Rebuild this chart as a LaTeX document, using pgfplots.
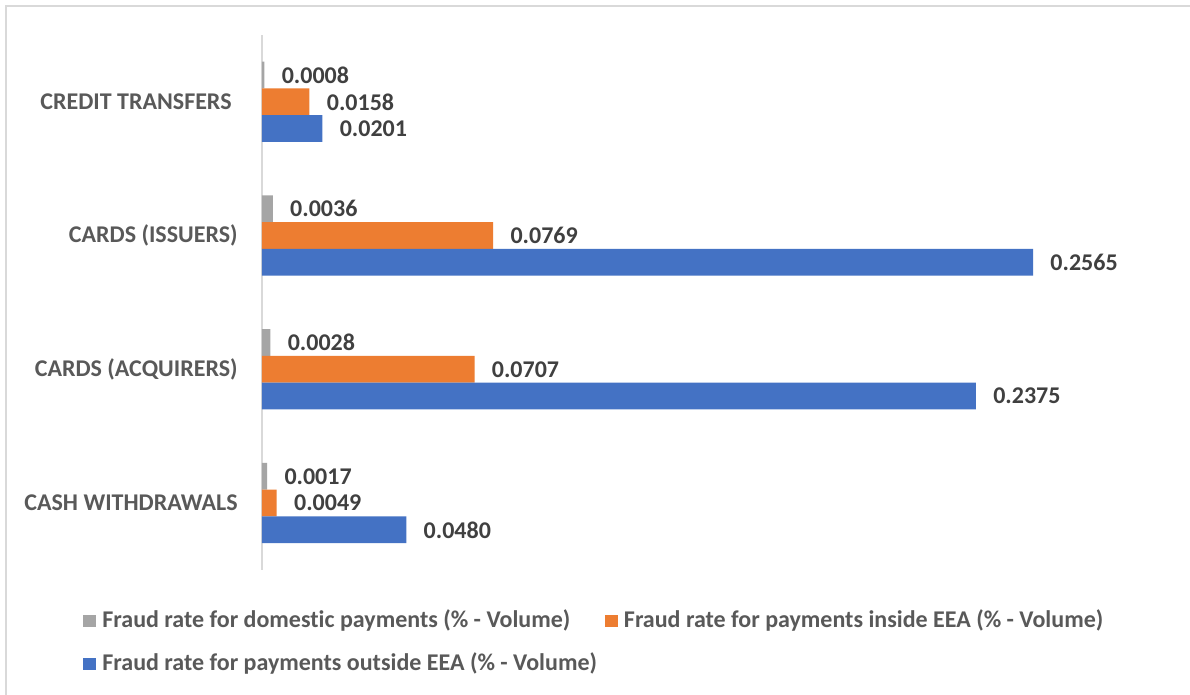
\documentclass[border=0pt]{standalone}
\usepackage{pgfplots}
\pgfplotsset{compat=1.18}
\usepackage{fontspec}
\setmainfont[Ligatures=CommonOff]{Carlito}
\definecolor{cgray}{HTML}{A5A5A5}
\definecolor{corange}{HTML}{ED7D31}
\definecolor{cblue}{HTML}{4472C4}
\definecolor{ctxt}{HTML}{595959}
\definecolor{cval}{HTML}{404040}
\definecolor{cline}{HTML}{D9D9D9}
\pgfplotsset{
  sqlegend/.style={legend image code/.code={\fill[##1] (0pt,-3pt) rectangle (6.5pt,3pt);}}
}
\begin{document}
\begin{tikzpicture}
\useasboundingbox (-131pt,-62.5pt) rectangle (464pt,285pt);
\fill[white] (-131pt,-62.5pt) rectangle (464pt,285pt);
\draw[cline, line width=0.9pt] (-128pt,-80pt) rectangle (480pt,282pt);
\begin{axis}[
  at={(0pt,0pt)}, anchor=south west,
  scale only axis, width=450.9pt, height=267.5pt,
  xbar, bar width=0.2,
  xmin=0, xmax=0.3, ymin=-0.5, ymax=3.5,
  axis x line=none, axis y line=left,
  axis line style={-, cline, line width=1pt},
  ytick={0,1,2,3},
  yticklabels={CASH WITHDRAWALS, CARDS (ACQUIRERS), CARDS (ISSUERS), CREDIT TRANSFERS\kern3pt},
  major tick length=0pt,
  yticklabel style={font=\fontsize{12}{14}\selectfont\bfseries, text=ctxt, inner sep=0pt, xshift=-12pt},
  clip=false,
  point meta=x,
  nodes near coords={\pgfmathprintnumber[fixed,zerofill,precision=4,assume math mode=true]{\pgfplotspointmeta}},
  nodes near coords style={anchor=west, inner sep=0pt, xshift=8.5pt, font=\fontsize{12}{14}\selectfont\bfseries, text=cval},
  legend columns=2,
  legend cell align=left,
  legend style={draw=none, fill=none, inner sep=0pt, at={(-0.1985,-0.0729)}, anchor=north west,
    font=\fontsize{12}{14}\selectfont\bfseries, text=ctxt,
    nodes={inner sep=0pt, text height=9pt, text depth=3pt},
    column sep=3pt, row sep=9.5pt,
    /tikz/every even column/.append style={column sep=4pt}},
]
\addplot[draw=none, fill=cgray, bar shift=0.2, sqlegend] coordinates {(0.0008,3) (0.0036,2) (0.0028,1) (0.0017,0)};
\addlegendentry{Fraud rate for domestic payments (\% - Volume)}
\addplot[draw=none, fill=corange, bar shift=0, sqlegend] coordinates {(0.0158,3) (0.0769,2) (0.0707,1) (0.0049,0)};
\addlegendentry{Fraud rate for payments inside EEA (\% - Volume)}
\addplot[draw=none, fill=cblue, bar shift=-0.2, sqlegend] coordinates {(0.0201,3) (0.2565,2) (0.2375,1) (0.0480,0)};
\addlegendentry{Fraud rate for payments outside EEA (\% - Volume)}
\end{axis}
\end{tikzpicture}
\end{document}
